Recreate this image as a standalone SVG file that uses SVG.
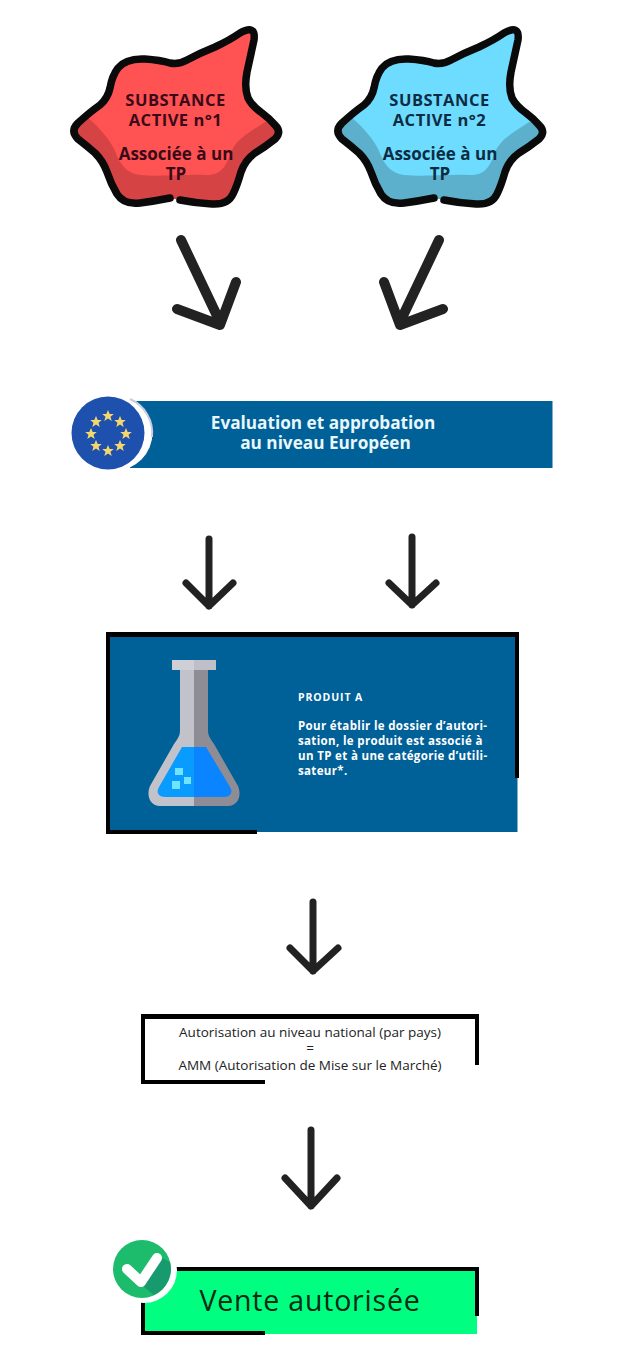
<svg xmlns="http://www.w3.org/2000/svg" width="639" height="1350" viewBox="0 0 639 1350">
<style>
text{font-family:"Open Sans","Noto Sans","DejaVu Sans",sans-serif}
.arrow{fill:none;stroke:#222;stroke-linecap:round;stroke-linejoin:round}
.a1{stroke-width:10}.a2{stroke-width:7}
.blobline{fill:none;stroke:#0a0a0a;stroke-width:7.500;stroke-linecap:round;stroke-linejoin:round}
.sub{font-size:16.500px;font-weight:700;text-anchor:middle;letter-spacing:.5px}
.assoc{font-size:17px;font-weight:700;text-anchor:middle}
.bk{fill:#000}
.pt{font-size:11.500px;font-weight:700;fill:#fff;letter-spacing:.35px}
.amm{font-size:13.500px;text-anchor:middle;fill:#222}
</style>
<defs>
<path id="blobLine" d="M170 198Q155 201 140 203Q124 205 117 194Q111 184 107 172Q103 161 95 153Q87 146 78 139Q70 131 78 123Q90 112 100 105Q108 98 110 88Q112 76 118 68Q126 58 145 59Q160 60 170 63Q178 65 187 60Q200 53 215 47Q230 40 240 33Q256 24 254 40Q250 58 247 72Q244 88 248 98Q252 106 262 113Q270 119 275 125Q282 132 275 139Q265 147 255 153Q245 160 241 172Q237 186 233 194Q228 205 212 204Q195 203 180 200"/>
<clipPath id="blobClip"><path d="M170 198Q155 201 140 203Q124 205 117 194Q111 184 107 172Q103 161 95 153Q87 146 78 139Q70 131 78 123Q90 112 100 105Q108 98 110 88Q112 76 118 68Q126 58 145 59Q160 60 170 63Q178 65 187 60Q200 53 215 47Q230 40 240 33Q256 24 254 40Q250 58 247 72Q244 88 248 98Q252 106 262 113Q270 119 275 125Q282 132 275 139Q265 147 255 153Q245 160 241 172Q237 186 233 194Q228 205 212 204Q195 203 180 200Z"/></clipPath>
<path id="shade" d="M70 112 88 118C100 128 110 140 115 151C120 164 126 173 140 175C160 177 190 174 205 175C222 176 226 165 231 153C235 140 250 132 265 122L290 120V215H60Z"/>
<path id="star" d="M0-6 1.700-1.900 5.800-1.900 2.500.8 3.700 4.900 0 2.500-3.700 4.900-2.500.8-5.800-1.900-1.700-1.900Z" fill="#f5d76e"/>
</defs>

<g id="substance-1">
<use href="#blobLine" fill="#ff5252"/>
<use href="#shade" clip-path="url(#blobClip)" fill="#d64345"/>
<use href="#blobLine" class="blobline"/>
<text class="sub" fill="#3a0a18"><tspan x="175.500" y="106">SUBSTANCE</tspan><tspan x="175.500" y="126">ACTIVE n°1</tspan></text>
<text class="assoc" fill="#3a0a18"><tspan x="176" y="160">Associée à un</tspan><tspan x="176" y="180">TP</tspan></text>
</g>

<g id="substance-2" transform="translate(264 0)">
<use href="#blobLine" fill="#6edcff"/>
<use href="#shade" clip-path="url(#blobClip)" fill="#5cb0cb"/>
<use href="#blobLine" class="blobline"/>
<text class="sub" fill="#0c2c44"><tspan x="175.500" y="106">SUBSTANCE</tspan><tspan x="175.500" y="126">ACTIVE n°2</tspan></text>
<text class="assoc" fill="#0c2c44"><tspan x="176" y="160">Associée à un</tspan><tspan x="176" y="180">TP</tspan></text>
</g>

<g id="connectors">
<path class="arrow a1" d="M181 240 220 322M177 309 220 325 236 282"/>
<path class="arrow a1" d="M439 240 400 322M443 309 400 325 384 282"/>
<path class="arrow a2" d="M209 539V606M186 583 209 606 233 583"/>
<path class="arrow a2" d="M412 537V605M389 583 412 605 436 583"/>
<path class="arrow a2" d="M313 902V971M290 948 313 971 338 948"/>
<path class="arrow a2" d="M311 1130V1206M285 1178 311 1206 337 1178"/>
</g>

<g id="europe">
<rect x="130" y="401" width="422.500" height="67" fill="#006098"/>
<circle cx="115" cy="433" r="37.500" fill="#fff"/>
<path d="M130 399A37 37 0 0 1 152 437" fill="none" stroke="#c9cbe0" stroke-width="2"/>
<circle cx="108" cy="433" r="36.500" fill="#1e50ae"/>
<use href="#star" x="108" y="416"/>
<use href="#star" x="120" y="422"/>
<use href="#star" x="126" y="434"/>
<use href="#star" x="120" y="446"/>
<use href="#star" x="108" y="451"/>
<use href="#star" x="96" y="446"/>
<use href="#star" x="91" y="434"/>
<use href="#star" x="96" y="422"/>
<text font-size="17.200" font-weight="700" fill="#e8f7fb" text-anchor="middle"><tspan x="323" y="429">Evaluation et approbation</tspan><tspan x="325.500" y="449">au niveau Européen</tspan></text>
</g>

<g id="produit-a">
<rect x="108" y="634" width="409.500" height="198" fill="#006098"/>
<rect class="bk" x="106" y="632" width="413" height="5"/>
<rect class="bk" x="106" y="632" width="4" height="202"/>
<rect class="bk" x="515" y="632" width="4" height="146"/>
<rect class="bk" x="106" y="830" width="151" height="4"/>
<rect x="172" y="660" width="22" height="10" fill="#cfcfd6"/>
<rect x="194" y="660" width="22" height="10" fill="#c0bec6"/>
<path d="M180 670H194V806H160C150 806 146 796 150 786L174 744C178 738 180 736 180 730Z" fill="#c2c2ca"/>
<path d="M208 670H194V806H228C238 806 242 796 238 786L214 744C210 738 208 736 208 730Z" fill="#8e8c95"/>
<path d="M182 747H194V797H165C158 797 156 792 159 787Z" fill="#0a9bff"/>
<path d="M206 747H194V797H224C231 797 233 792 230 787Z" fill="#0a84ff"/>
<rect x="175" y="768" width="8" height="7" fill="#6fe3ff"/>
<rect x="184" y="777" width="7" height="7" fill="#6fe3ff"/>
<rect x="172" y="781" width="8" height="8" fill="#6fe3ff"/>
<text class="pt" x="298" y="701" style="font-size:10.500px;letter-spacing:.9px">PRODUIT A</text>
<text class="pt"><tspan x="298" y="730">Pour établir le dossier d’autori-</tspan><tspan x="298" y="745">sation, le produit est associé à</tspan><tspan x="298" y="760">un TP et à une catégorie d’utili-</tspan><tspan x="298" y="775">sateur*.</tspan></text>
</g>

<g id="amm">
<rect class="bk" x="141" y="1014" width="338" height="5"/>
<rect class="bk" x="141" y="1014" width="4" height="70"/>
<rect class="bk" x="475" y="1014" width="4" height="51"/>
<rect class="bk" x="141" y="1080" width="124" height="4"/>
<text class="amm"><tspan x="310" y="1037">Autorisation au niveau national (par pays)</tspan><tspan x="310" y="1053">=</tspan><tspan x="310" y="1070">AMM (Autorisation de Mise sur le Marché)</tspan></text>
</g>

<g id="vente">
<rect x="143" y="1269" width="334" height="65" fill="#00ff80"/>
<rect class="bk" x="141" y="1267" width="338" height="4"/>
<rect class="bk" x="141" y="1267" width="4" height="68"/>
<rect class="bk" x="475" y="1267" width="4" height="49"/>
<rect class="bk" x="141" y="1331" width="124" height="4"/>
<circle cx="144" cy="1270" r="33" fill="#fff"/>
<circle cx="142" cy="1269" r="29" fill="#1dbb6c"/>
<path d="M139 1283 154 1295A29 29 0 0 0 170 1262L160 1257Z" fill="#169a6e"/>
<path d="M127 1269 141 1282 157 1258" fill="none" stroke="#fff" stroke-width="10" stroke-linecap="round" stroke-linejoin="round"/>
<text x="310" y="1311" font-size="28.500" font-weight="500" fill="#062a16" text-anchor="middle" letter-spacing=".8">Vente autorisée</text>
</g>
</svg>
